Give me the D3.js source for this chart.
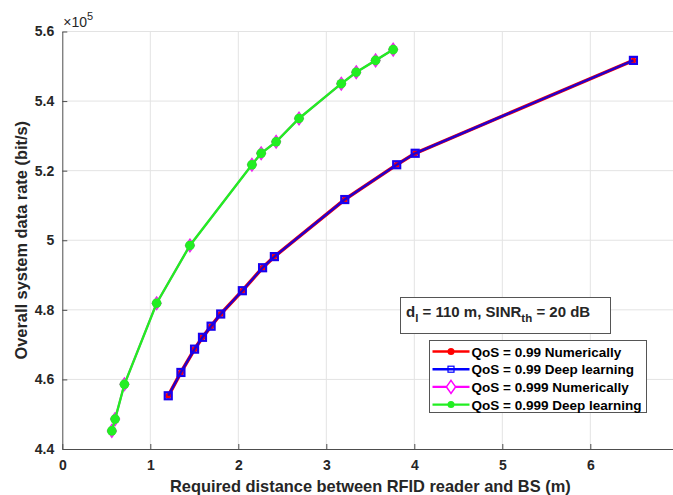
<!DOCTYPE html>
<html>
<head>
<meta charset="utf-8">
<script src="https://cdn.jsdelivr.net/npm/d3@7"></script>
<style>
  body { margin: 0; background: #fff; }
  svg { display: block; overflow: hidden; }
  text { font-family: "Liberation Sans", Arial, sans-serif; fill: #262626; }
  .tick-label { font-size: 14px; font-weight: bold; }
  .unit { font-size: 16.4px; font-weight: bold; }
  .legend-texts { font-size: 13.5px; font-weight: bold; fill: #000; }
</style>
</head>
<body>
<div id="svg-container"></div>
<script>
////////////////////////////  Data  ////////////////////////////////
// QoS = 0.99 (numerically and deep learning overlap)
const dist099 = [1.204, 1.348, 1.503, 1.593, 1.691, 1.80, 2.046, 2.276, 2.41, 3.21, 3.80, 4.01, 6.49];
const rate099 = [455300, 462000, 468700, 472100, 475300, 478800, 485500, 492100, 495300, 511700, 521700, 525000, 551700];
// QoS = 0.999
const dist0999 = [0.563, 0.60, 0.706, 1.072, 1.45, 2.155, 2.26, 2.43, 2.69, 3.17, 3.34, 3.56, 3.76];
const rate0999 = [445200, 448600, 458600, 481900, 498500, 521700, 525000, 528300, 535000, 545000, 548300, 551700, 554800];

const xTicks = [0, 1, 2, 3, 4, 5, 6];
const yTicks = [440000, 460000, 480000, 500000, 520000, 540000, 560000];

const seriesNames = [
  "QoS = 0.99 Numerically",
  "QoS = 0.99 Deep learning",
  "QoS = 0.999 Numerically",
  "QoS = 0.999 Deep learning"
];

////////////////////////////  Init  ////////////////////////////////
const width = 673, height = 495;
const margin = { top: 31.5, left: 62.3, bottom: 46 };

const svg = d3.select("#svg-container").append("svg")
  .attr("width", width).attr("height", height);

const xScale = d3.scaleLinear().domain([0, 7]).range([margin.left, margin.left + 7 * 88]);
const yScale = d3.scaleLinear().domain([440000, 560000]).range([height - margin.bottom, margin.top]);

// grid
svg.append("g").selectAll("line").data(xTicks.slice(1)).enter().append("line")
  .attr("x1", d => xScale(d)).attr("x2", d => xScale(d))
  .attr("y1", yScale(560000)).attr("y2", yScale(440000))
  .attr("stroke", "#e3e3e3").attr("stroke-width", 1);
svg.append("g").selectAll("line").data(yTicks.slice(1)).enter().append("line")
  .attr("x1", xScale(0)).attr("x2", width)
  .attr("y1", d => yScale(d)).attr("y2", d => yScale(d))
  .attr("stroke", "#e3e3e3").attr("stroke-width", 1);

// axes
const xAxis = d3.axisBottom(xScale).tickValues(xTicks).tickSizeInner(-5).tickSizeOuter(0).tickPadding(11)
  .tickFormat(d3.format("d"));
const yAxis = d3.axisLeft(yScale).tickValues(yTicks).tickSizeInner(-5).tickSizeOuter(0).tickPadding(8)
  .tickFormat(d => d3.format("~g")(d / 1e5));

svg.append("g").attr("class", "x-axis")
  .attr("transform", `translate(0,${yScale(440000)})`).call(xAxis);
svg.append("g").attr("class", "y-axis")
  .attr("transform", `translate(${xScale(0)},0)`).call(yAxis);

svg.selectAll(".x-axis path, .y-axis path").attr("stroke", "#4d4d4d").attr("stroke-width", 1);
svg.selectAll(".x-axis .tick line, .y-axis .tick line").attr("stroke", "#4d4d4d");
svg.selectAll(".tick text").attr("class", "tick-label").attr("fill", "#262626")
  .style("font-family", "'Liberation Sans', Arial, sans-serif");

// exponent
const expo = svg.append("text").attr("x", xScale(0) + 1).attr("y", margin.top - 5)
  .style("font-size", "14px");
expo.append("tspan").text("\u00d710");
expo.append("tspan").attr("dy", -7).style("font-size", "11px").text("5");

// units
svg.append("text").attr("class", "unit").attr("text-anchor", "middle")
  .attr("transform", `translate(${(xScale(0) + xScale(7)) / 2}, ${height - 3})`)
  .text("Required distance between RFID reader and BS (m)");
svg.append("text").attr("class", "unit").attr("text-anchor", "middle")
  .attr("transform", `translate(27, ${(yScale(440000) + yScale(560000)) / 2}) rotate(-90)`)
  .text("Overall system data rate (bit/s)");

//////////////////////////// Lines ////////////////////////////////
const d099 = dist099.map((d, i) => [d, rate099[i]]);
const d0999 = dist0999.map((d, i) => [d, rate0999[i]]);
const line = d3.line().x(d => xScale(d[0])).y(d => yScale(d[1]));
const diamond = (cx, cy, r) => `M${cx},${cy - r}L${cx + r * 0.7},${cy}L${cx},${cy + r}L${cx - r * 0.7},${cy}Z`;

// QoS 0.99 numerically (red)
svg.append("path").datum(d099).attr("d", line).attr("fill", "none")
  .attr("stroke", "#ff0000").attr("stroke-width", 3.6);
svg.append("g").selectAll("circle").data(d099).enter().append("circle")
  .attr("cx", d => xScale(d[0])).attr("cy", d => yScale(d[1])).attr("r", 3)
  .attr("fill", "#ff0000");
// QoS 0.99 deep learning (blue)
svg.append("path").datum(d099).attr("d", line).attr("fill", "none")
  .attr("stroke", "#2200cc").attr("stroke-width", 2.4);
svg.append("g").selectAll("rect").data(d099).enter().append("rect")
  .attr("x", d => xScale(d[0]) - 3.5).attr("y", d => yScale(d[1]) - 3.5)
  .attr("width", 7).attr("height", 7).attr("fill", "none")
  .attr("stroke", "#1a00ee").attr("stroke-width", 2.2);

// QoS 0.999 numerically (magenta diamonds)
svg.append("path").datum(d0999).attr("d", line).attr("fill", "none")
  .attr("stroke", "#ff00ff").attr("stroke-width", 2);
svg.append("g").selectAll("path").data(d0999).enter().append("path")
  .attr("d", d => diamond(xScale(d[0]), yScale(d[1]), 6.5))
  .attr("fill", "#e070e0").attr("stroke", "#ee22ee").attr("stroke-width", 1.2);
// QoS 0.999 deep learning (green)
svg.append("path").datum(d0999).attr("d", line).attr("fill", "none")
  .attr("stroke", "#22ee22").attr("stroke-width", 2.4);
svg.append("g").selectAll("circle").data(d0999).enter().append("circle")
  .attr("cx", d => xScale(d[0])).attr("cy", d => yScale(d[1])).attr("r", 4.8)
  .attr("fill", "#22ee22");

//////////////////////////// Annotation ////////////////////////////
svg.append("rect").attr("x", 400.5).attr("y", 297.5).attr("width", 210).attr("height", 36)
  .attr("fill", "#fff").attr("stroke", "#555").attr("stroke-width", 1);
const note = svg.append("text").attr("x", 406).attr("y", 317)
  .style("font-size", "15px").style("font-weight", "bold").attr("fill", "#000");
note.append("tspan").text("d");
note.append("tspan").attr("dy", 5).style("font-size", "11.5px").text("l");
note.append("tspan").attr("dy", -5).text(" = 110 m, SINR");
note.append("tspan").attr("dy", 5).style("font-size", "11.5px").text("th");
note.append("tspan").attr("dy", -5).text(" = 20 dB");

//////////////////////////// Legend ////////////////////////////////
const legendColors = ["#ff0000", "#0000ff", "#ff00ff", "#22ee22"];
const lx = 429.5, ly = 340.5;
svg.append("rect").attr("x", lx).attr("y", ly).attr("width", 217).attr("height", 72)
  .attr("fill", "#fff").attr("stroke", "#555").attr("stroke-width", 1);
const rowY = i => ly + 11 + 17.7 * i;
svg.selectAll("legend-lines").data(seriesNames).enter().append("line")
  .attr("x1", lx + 3).attr("x2", lx + 40)
  .attr("y1", (d, i) => rowY(i)).attr("y2", (d, i) => rowY(i))
  .attr("stroke", (d, i) => legendColors[i]).attr("stroke-width", 2.4);
const lm = lx + 21.5;
svg.append("circle").attr("cx", lm).attr("cy", rowY(0)).attr("r", 3.5).attr("fill", "#ff0000");
svg.append("rect").attr("x", lm - 3).attr("y", rowY(1) - 3).attr("width", 6).attr("height", 6)
  .attr("fill", "none").attr("stroke", "#0000ff").attr("stroke-width", 1.2);
svg.append("path").attr("d", diamond(lm, rowY(2), 6.5)).attr("fill", "#fff")
  .attr("stroke", "#ff00ff").attr("stroke-width", 1.5);
svg.append("circle").attr("cx", lm).attr("cy", rowY(3)).attr("r", 3.5).attr("fill", "#22ee22");
svg.selectAll("legend-texts").data(seriesNames).enter().append("text")
  .attr("class", "legend-texts")
  .attr("x", lx + 42).attr("y", (d, i) => rowY(i) + 5)
  .text(d => d);
</script>
</body>
</html>
